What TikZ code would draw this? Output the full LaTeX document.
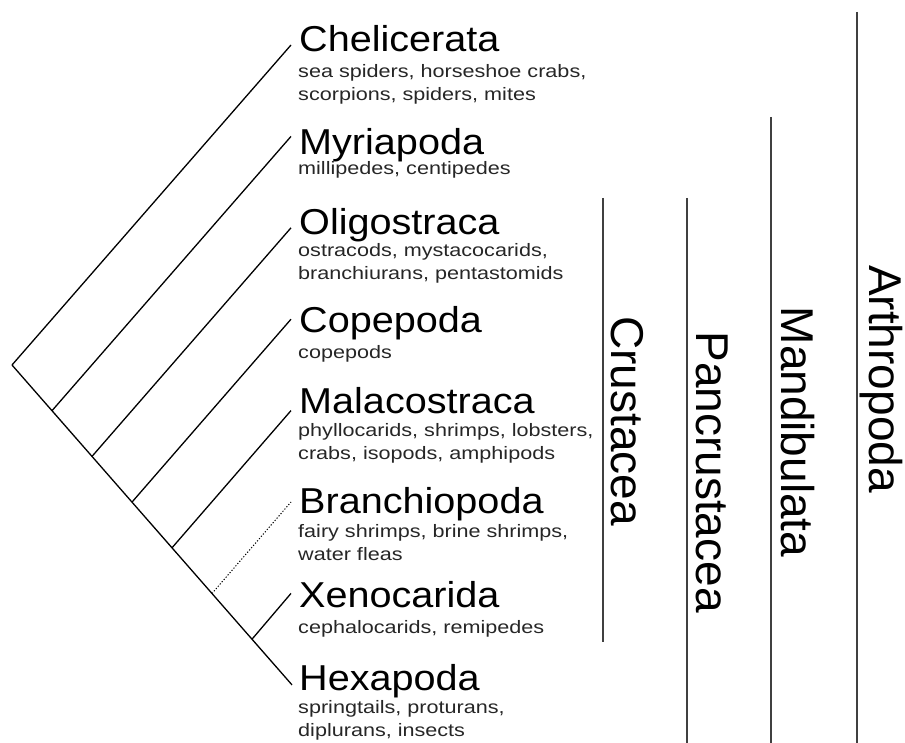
\documentclass[tikz,border=0pt]{standalone}
\usepackage{fontspec}
\setmainfont{Liberation Sans}
\newfontfamily\taxonfont[FakeStretch=1.1]{Liberation Sans}
\newfontfamily\infofont[FakeStretch=1.2]{Liberation Sans}
\usetikzlibrary{positioning}

\tikzset{
  branch/.style={line width=1.3pt, black},
  taxon/.style={anchor=base west, inner sep=0pt, font=\taxonfont\fontsize{36}{40}\selectfont},
  info/.style={anchor=base west, inner sep=0pt, align=left, text=black!85, font=\infofont\fontsize{18}{23}\selectfont},
  clade/.style={anchor=base, inner sep=0pt, rotate=-90, font=\fontsize{46}{50}\selectfont},
  cladeline/.style={line width=1.6pt, black!75},
}

\begin{document}
\begin{tikzpicture}[x=1pt, y=-1pt]
  \useasboundingbox (0,0) rectangle (905,743);
  % spine and branch points
  \foreach \k in {0,...,7}
    \coordinate (j\k) at (12+40*\k, 365+45.7*\k);
  \foreach \k in {0,...,6}
    \coordinate (t\k) at (291, 45+91.4*\k);
  \draw[branch] (j0) -- (j7);
  \foreach \k in {0,1,2,3,4,6}
    \draw[branch] (j\k) -- (t\k);
  \draw[branch, line width=1pt, dash pattern=on 1.2pt off 1.8pt] (j5) -- (t5);

  % taxa (y of info = baseline of its last line)
  \foreach \nm/\txt/\yn/\ys [count=\i] in {
      Chelicerata/{sea spiders, horseshoe crabs,\\scorpions, spiders, mites}/52/101,
      Myriapoda/{millipedes, centipedes}/155/175,
      Oligostraca/{ostracods, mystacocarids,\\branchiurans, pentastomids}/235/280,
      Copepoda/{copepods}/333/358,
      Malacostraca/{phyllocarids, shrimps, lobsters,\\crabs, isopods, amphipods}/413/459,
      Branchiopoda/{fairy shrimps, brine shrimps,\\water fleas}/513/560,
      Xenocarida/{cephalocarids, remipedes}/607/633,
      Hexapoda/{springtails, proturans,\\diplurans, insects}/690/736}
  {
    \node[taxon] (n\i) at (299,\yn) {\nm};
    \node[info] (s\i) at (298,\ys) {\txt};
  }

  % clades
  \foreach \nm/\x/\top/\bot/\tx/\ty [count=\i] in {
      Crustacea/603/198/642/611/421,
      Pancrustacea/687/198/743/696/472,
      Mandibulata/771/117/743/781/432,
      Arthropoda/857/12/743/869/379}
  {
    \coordinate (c\i-top) at (\x,\top);
    \coordinate (c\i-bot) at (\x,\bot);
    \draw[cladeline] (c\i-top) -- (c\i-bot);
    \node[clade] (c\i) at (\tx,\ty) {\nm};
  }
\end{tikzpicture}
\end{document}
